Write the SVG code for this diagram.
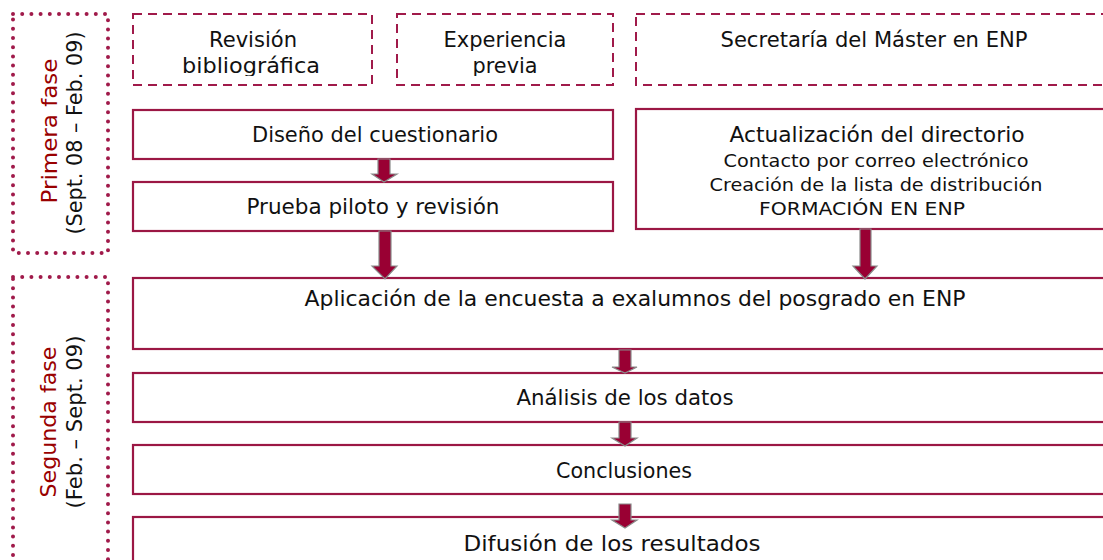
<svg xmlns="http://www.w3.org/2000/svg" width="1103" height="560" viewBox="0 0 1103 560">
<style>
.t{font-family:"DejaVu Sans","Liberation Sans",sans-serif;font-size:21px;fill:#111;text-anchor:middle}
.s{font-size:18px}
.ph{fill:#990000}
.dash{fill:none;stroke:#A01A4A;stroke-width:2;stroke-dasharray:9 6}
.box{fill:#fff;stroke:#9B1744;stroke-width:2.2}
.dot{fill:none;stroke:#A01A4A;stroke-width:4;stroke-linecap:round;stroke-dasharray:0 9.2}
.arr{fill:#990033;stroke:#8a8a8a;stroke-width:1.2}
</style>
<defs>
<clipPath id="topclip"><rect x="0" y="14" width="1103" height="62"/></clipPath>
</defs>
<rect width="1103" height="560" fill="#fff"/>

<g id="phase1">
<rect class="dot" x="13" y="14" width="95" height="239"/>
<text class="t ph" transform="translate(57,131) rotate(-90)" textLength="145" lengthAdjust="spacingAndGlyphs">Primera fase</text>
<text class="t" transform="translate(82,133) rotate(-90)" textLength="203" lengthAdjust="spacingAndGlyphs">(Sept. 08 – Feb. 09)</text>
</g>
<g id="phase2">
<rect class="dot" x="13" y="277" width="95" height="320"/>
<text class="t ph" transform="translate(56,422) rotate(-90)" textLength="151" lengthAdjust="spacingAndGlyphs">Segunda fase</text>
<text class="t" transform="translate(82,422) rotate(-90)" textLength="173" lengthAdjust="spacingAndGlyphs">(Feb. – Sept. 09)</text>
</g>

<g id="revision">
<rect class="dash" x="133" y="14" width="239" height="71"/>
<g clip-path="url(#topclip)">
<text class="t" x="253" y="47" textLength="88" lengthAdjust="spacingAndGlyphs">Revisión</text>
<text class="t" x="251" y="73" textLength="138" lengthAdjust="spacingAndGlyphs">bibliográfica</text>
</g>
</g>
<g id="experiencia">
<rect class="dash" x="397" y="14" width="216" height="71"/>
<g clip-path="url(#topclip)">
<text class="t" x="505" y="47" textLength="123" lengthAdjust="spacingAndGlyphs">Experiencia</text>
<text class="t" x="505" y="73" textLength="65" lengthAdjust="spacingAndGlyphs">previa</text>
</g>
</g>
<g id="secretaria">
<rect class="dash" x="636" y="14" width="490" height="71"/>
<text class="t" x="874" y="47" textLength="307" lengthAdjust="spacingAndGlyphs">Secretaría del Máster en ENP</text>
</g>

<g id="diseno">
<rect class="box" x="133" y="110" width="480" height="49"/>
<text class="t" x="375" y="142" textLength="246" lengthAdjust="spacingAndGlyphs">Diseño del cuestionario</text>
</g>
<g id="prueba">
<rect class="box" x="133" y="182" width="480" height="49"/>
<text class="t" x="373" y="214" textLength="253" lengthAdjust="spacingAndGlyphs">Prueba piloto y revisión</text>
</g>
<g id="actualizacion">
<rect class="box" x="636" y="109" width="490" height="120"/>
<text class="t" x="877" y="142" textLength="295" lengthAdjust="spacingAndGlyphs">Actualización del directorio</text>
<text class="t s" x="876" y="167" textLength="305" lengthAdjust="spacingAndGlyphs">Contacto por correo electrónico</text>
<text class="t s" x="876" y="191" textLength="333" lengthAdjust="spacingAndGlyphs">Creación de la lista de distribución</text>
<text class="t s" x="862" y="215" textLength="206" lengthAdjust="spacingAndGlyphs">FORMACIÓN EN ENP</text>
</g>

<g id="aplicacion">
<rect class="box" x="133" y="278" width="990" height="71"/>
<text class="t" x="635" y="306" textLength="661" lengthAdjust="spacingAndGlyphs">Aplicación de la encuesta a exalumnos del posgrado en ENP</text>
</g>
<g id="analisis">
<rect class="box" x="133" y="373" width="990" height="49"/>
<text class="t" x="625" y="405" textLength="217" lengthAdjust="spacingAndGlyphs">Análisis de los datos</text>
</g>
<g id="conclusiones">
<rect class="box" x="133" y="445" width="990" height="49"/>
<text class="t" x="624" y="478" textLength="136" lengthAdjust="spacingAndGlyphs">Conclusiones</text>
</g>
<g id="difusion">
<rect class="box" x="133" y="517" width="990" height="60"/>
<text class="t" x="612" y="551" textLength="297" lengthAdjust="spacingAndGlyphs">Difusión de los resultados</text>
</g>

<g id="connectors">
<path class="arr" d="M378,159 H390 V174 H397 L384,182 L372,174 H378 Z"/>
<path class="arr" d="M379,231 H391 V266 H397 L385,279 L372,266 H379 Z"/>
<path class="arr" d="M860,229 H871 V266 H877 L865,279 L853,266 H860 Z"/>
<path class="arr" d="M619,350 H631 V367 H637 L625,373 L612,367 H619 Z"/>
<path class="arr" d="M619,422 H631 V438 H637 L625,446 L612,438 H619 Z"/>
<path class="arr" d="M619,504 H631 V520 H637 L625,528 L612,520 H619 Z"/>
</g>
</svg>
